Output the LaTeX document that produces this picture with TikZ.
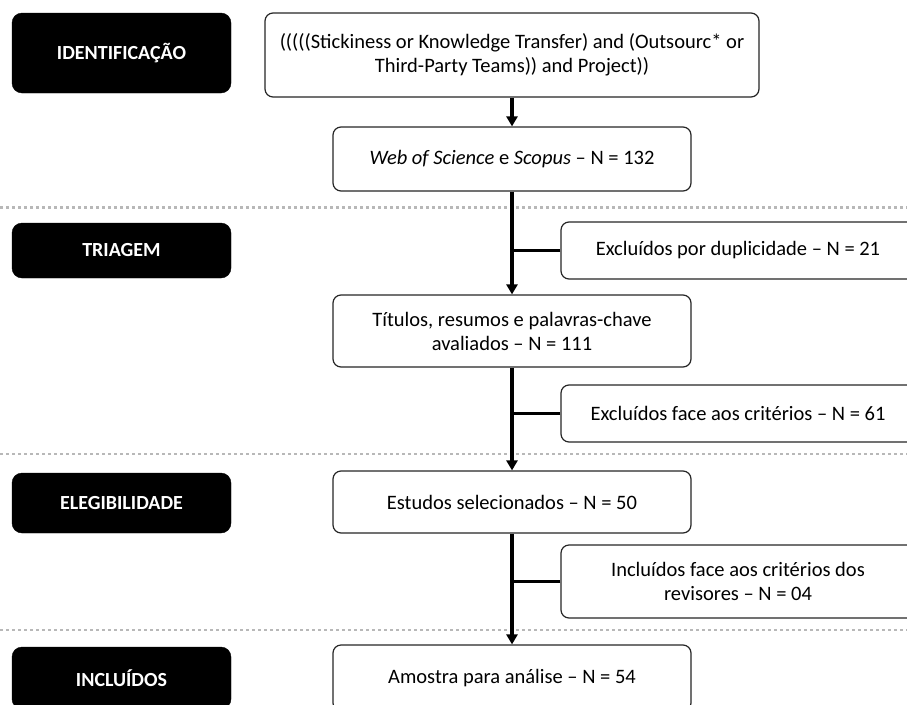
\documentclass[tikz,border=0pt]{standalone}
\usepackage{fontspec}
\setmainfont{Carlito}
\usetikzlibrary{arrows.meta}
\tikzset{
  phase/.style={fill=black, draw=black, rounded corners=10pt, text=white, font=\fontsize{20}{24}\selectfont\bfseries, inner sep=0pt, minimum width=219pt, align=center},
  box/.style={fill=white, draw=black!85, line width=1.2pt, rounded corners=8pt, font=\fontsize{20.5}{24}\selectfont, inner sep=0pt, align=center},
  sep/.style={draw=black!28, line width=2.6pt, dash pattern=on 3pt off 3pt},
  flow/.style={line width=3.3pt, -{Triangle[length=10pt,width=11pt]}},
  branch/.style={line width=3pt}
}
\begin{document}
\begin{tikzpicture}[x=1pt,y=-1pt]
\useasboundingbox (0,0) rectangle (907,704);
\clip (0,0) rectangle (907,704);
% separators
\draw[sep] (0,207.5) coordinate (s1) -- (907,207.5) coordinate (s1e);
\draw[sep] (0,454) coordinate (s2) -- (907,454) coordinate (s2e);
\draw[sep] (0,630) coordinate (s3) -- (907,630) coordinate (s3e);
% phase labels
\node[phase, minimum height=80pt] (id) at (121.5,53) {IDENTIFICAÇÃO};
\node[phase, minimum height=55pt] (tri) at (121.5,250.5) {TRIAGEM};
\node[phase, minimum height=60pt] (ele) at (121.5,503) {ELEGIBILIDADE};
\node[phase, minimum height=62pt] (inc) at (121.5,678) {INCLUÍDOS};
% main boxes
\node[box, minimum width=494pt, minimum height=84pt] (q) at (512,55) {(((((Stickiness or Knowledge Transfer) and (Outsourc* or\\Third-Party Teams)) and Project))};
\node[box, minimum width=358pt, minimum height=64pt] (wos) at (512,159) {\textit{Web of Science} e \textit{Scopus} – N = 132};
\node[box, minimum width=358pt, minimum height=72pt] (tit) at (512,331) {Títulos, resumos e palavras-chave\\avaliados – N = 111};
\node[box, minimum width=358pt, minimum height=62pt] (est) at (512,502) {Estudos selecionados – N = 50};
\node[box, minimum width=358pt, minimum height=66pt] (amo) at (512,678) {Amostra para análise – N = 54};
% side boxes
\node[box, minimum width=354pt, minimum height=57pt] (dup) at (738,250.5) {Excluídos por duplicidade – N = 21};
\node[box, minimum width=354pt, minimum height=57pt] (face) at (738,413.5) {Excluídos face aos critérios – N = 61};
\node[box, minimum width=354pt, minimum height=73pt] (incl) at (738,581.5) {Incluídos face aos critérios dos\\revisores – N = 04};
% flow
\draw[flow] (q.south) -- (wos.north);
\draw[flow] (wos.south) -- (tit.north);
\draw[flow] (tit.south) -- (est.north);
\draw[flow] (est.south) -- (amo.north);
% branches
\draw[branch] (dup.west) -- (dup.west -| wos.south);
\draw[branch] (face.west) -- (face.west -| tit.south);
\draw[branch] (incl.west) -- (incl.west -| est.south);
\end{tikzpicture}
\end{document}
